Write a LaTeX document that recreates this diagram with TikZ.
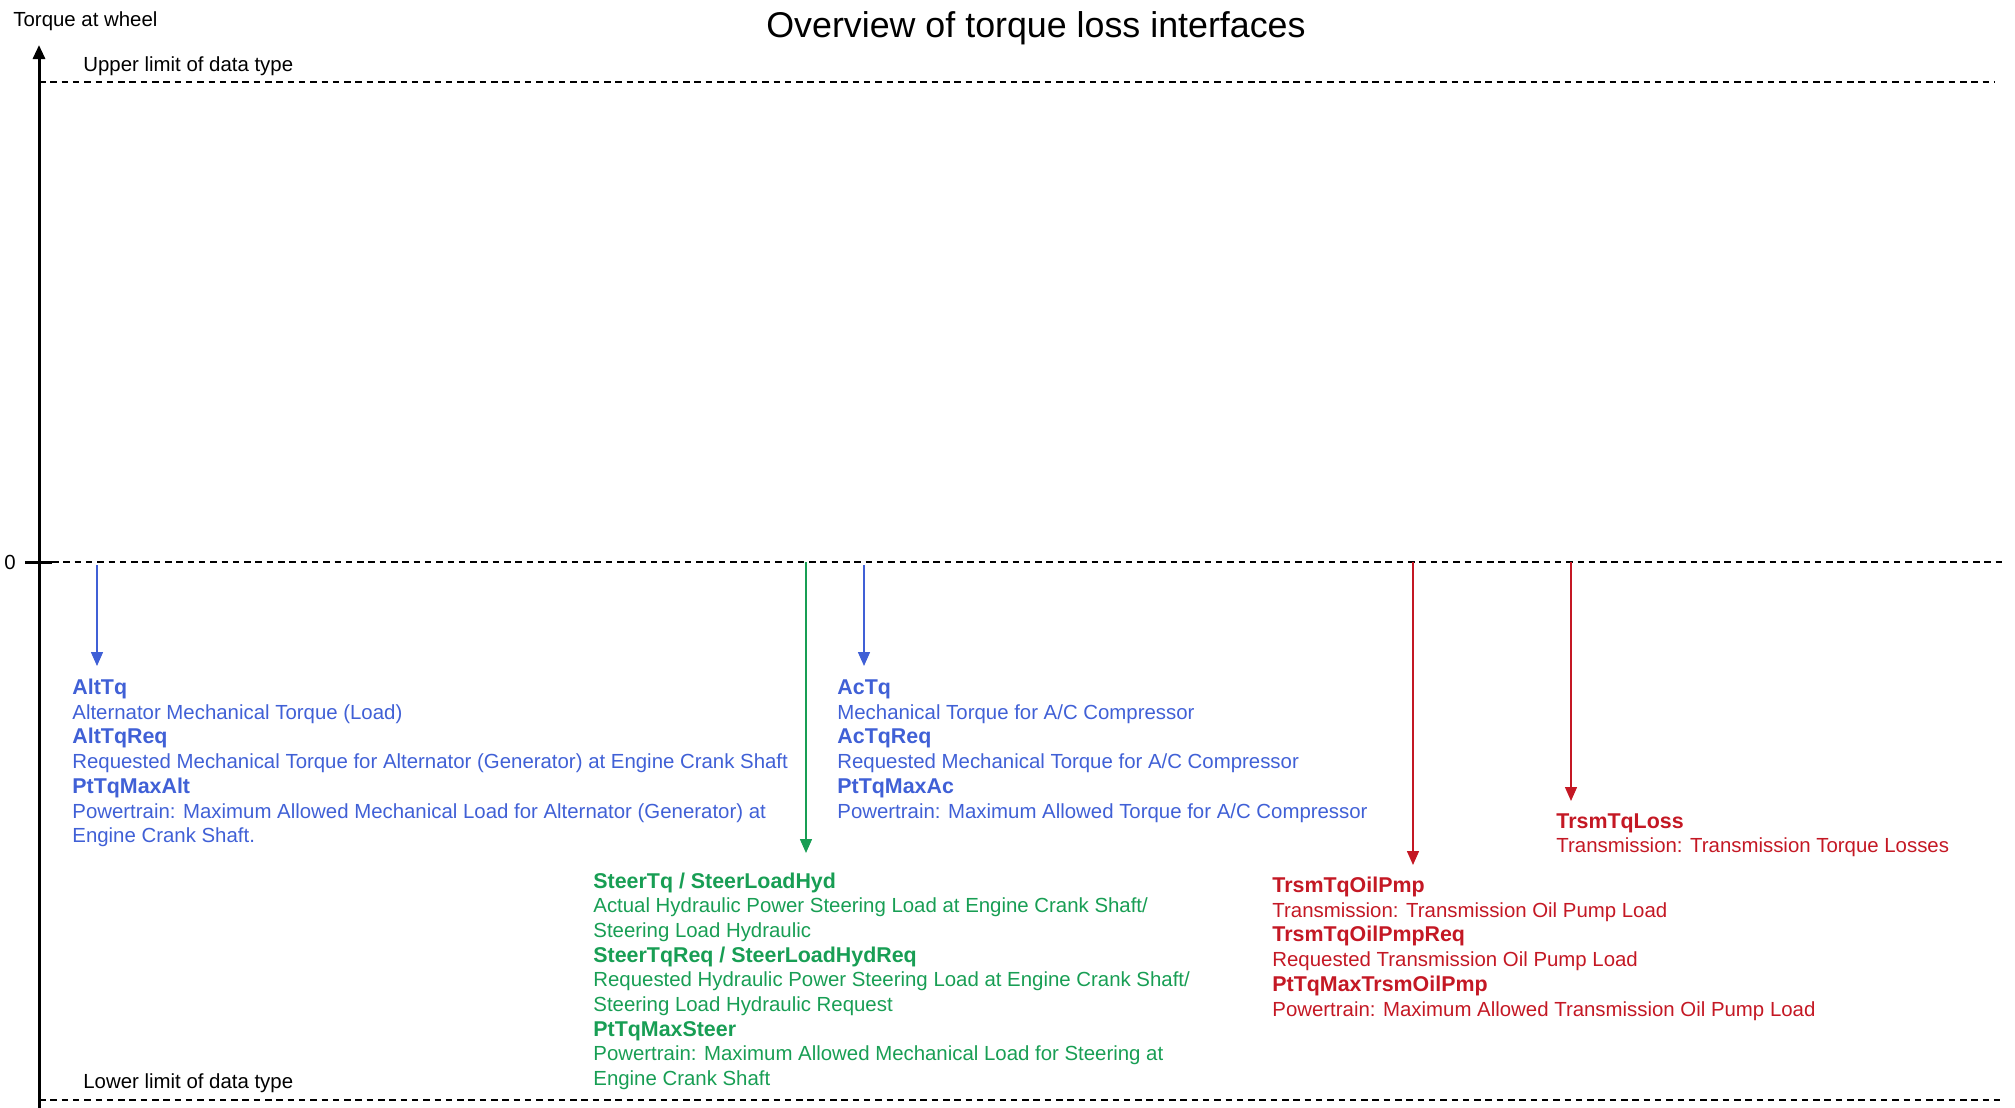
\documentclass[tikz,border=0pt]{standalone}
\usepackage{fontspec}
\setmainfont{Liberation Sans}
\usetikzlibrary{arrows.meta}
\definecolor{blu}{RGB}{64,96,214}
\definecolor{grn}{RGB}{24,158,84}
\definecolor{rd}{RGB}{196,24,36}
\begin{document}
\begin{tikzpicture}[x=0.5pt,y=-0.5pt,
  txt/.style={inner sep=0pt,anchor=base west,font=\fontsize{10.2}{12.35}\selectfont},
  nm/.style={inner sep=0pt,anchor=base west,font=\fontsize{10.7}{12.35}\selectfont\bfseries},
  dashln/.style={line width=0.6pt,dash pattern=on 3.25pt off 2.4pt},
  loadarrow/.style={line width=0.75pt,-{Triangle[length=7pt,width=6pt]}}]
\useasboundingbox (0,0) rectangle (2015,1108);

% axis
\coordinate (axB) at (39,1108);
\coordinate (axT) at (39,45);
\draw[line width=1.5pt,-{Triangle[length=7pt,width=6pt]}] (axB) -- (axT);
\coordinate (tkL) at (25,562);
\coordinate (tkR) at (52,562);
\draw[line width=1.5pt] (tkL) -- (tkR);

% reference lines
\coordinate (upL) at (39,82);   \coordinate (upR) at (1994,82);
\coordinate (zeL) at (52,562);  \coordinate (zeR) at (2005,562);
\coordinate (loL) at (39,1100); \coordinate (loR) at (2005,1100);
\draw[dashln] (upL) -- (upR);
\draw[dashln] (zeL) -- (zeR);
\draw[dashln] (loL) -- (loR);

% labels
\node[txt] (ylab) at (13,26) {Torque at wheel};
\node[inner sep=0pt,anchor=base,font=\fontsize{17.9}{20}\selectfont] (title) at (1036,38) {Overview of torque loss interfaces};
\node[txt] (upper) at (83,71) {Upper limit of data type};
\node[txt] (lower) at (83,1088) {Lower limit of data type};
\node[inner sep=0pt,font=\fontsize{10.2}{12.35}\selectfont] (zero) at (10,562) {0};

% Alternator
\coordinate (altS) at (97,565);
\coordinate (altE) at (97,666);
\draw[loadarrow,blu] (altS) -- (altE);
\begin{scope}[blu]
\node[nm]  (alt1) at (72,694.5) {AltTq};
\node[txt] (alt2) at (72,719.2) {Alternator Mechanical Torque (Load)};
\node[nm]  (alt3) at (72,743.9) {AltTqReq};
\node[txt] (alt4) at (72,768.6) {Requested Mechanical Torque for Alternator (Generator) at Engine Crank Shaft};
\node[nm]  (alt5) at (72,793.3) {PtTqMaxAlt};
\node[txt] (alt6) at (72,818.0) {Powertrain: Maximum Allowed Mechanical Load for Alternator (Generator) at};
\node[txt] (alt7) at (72,842.7) {Engine Crank Shaft.};
\end{scope}

% A/C compressor
\coordinate (acS) at (864,565);
\coordinate (acE) at (864,666);
\draw[loadarrow,blu] (acS) -- (acE);
\begin{scope}[blu]
\node[nm]  (ac1) at (837,694.5) {AcTq};
\node[txt] (ac2) at (837,719.2) {Mechanical Torque for A/C Compressor};
\node[nm]  (ac3) at (837,743.9) {AcTqReq};
\node[txt] (ac4) at (837,768.6) {Requested Mechanical Torque for A/C Compressor};
\node[nm]  (ac5) at (837,793.3) {PtTqMaxAc};
\node[txt] (ac6) at (837,818.0) {Powertrain: Maximum Allowed Torque for A/C Compressor};
\end{scope}

% Steering
\coordinate (stS) at (806,562);
\coordinate (stE) at (806,853);
\draw[loadarrow,grn] (stS) -- (stE);
\begin{scope}[grn]
\node[nm]  (st1) at (593,888.0) {SteerTq / SteerLoadHyd};
\node[txt] (st2) at (593,912.7) {Actual Hydraulic Power Steering Load at Engine Crank Shaft/};
\node[txt] (st3) at (593,937.4) {Steering Load Hydraulic};
\node[nm]  (st4) at (593,962.1) {SteerTqReq / SteerLoadHydReq};
\node[txt] (st5) at (593,986.8) {Requested Hydraulic Power Steering Load at Engine Crank Shaft/};
\node[txt] (st6) at (593,1011.5) {Steering Load Hydraulic Request};
\node[nm]  (st7) at (593,1036.2) {PtTqMaxSteer};
\node[txt] (st8) at (593,1060.9) {Powertrain: Maximum Allowed Mechanical Load for Steering at};
\node[txt] (st9) at (593,1085.6) {Engine Crank Shaft};
\end{scope}

% Transmission oil pump
\coordinate (opS) at (1413,562);
\coordinate (opE) at (1413,865);
\draw[loadarrow,rd] (opS) -- (opE);
\begin{scope}[rd]
\node[nm]  (op1) at (1272,892.5) {TrsmTqOilPmp};
\node[txt] (op2) at (1272,917.2) {Transmission: Transmission Oil Pump Load};
\node[nm]  (op3) at (1272,941.9) {TrsmTqOilPmpReq};
\node[txt] (op4) at (1272,966.6) {Requested Transmission Oil Pump Load};
\node[nm]  (op5) at (1272,991.3) {PtTqMaxTrsmOilPmp};
\node[txt] (op6) at (1272,1016.0) {Powertrain: Maximum Allowed Transmission Oil Pump Load};
\end{scope}

% Transmission torque loss
\coordinate (tlS) at (1571,562);
\coordinate (tlE) at (1571,801);
\draw[loadarrow,rd] (tlS) -- (tlE);
\begin{scope}[rd]
\node[nm]  (tl1) at (1556,828.0) {TrsmTqLoss};
\node[txt] (tl2) at (1556,852.5) {Transmission: Transmission Torque Losses};
\end{scope}
\end{tikzpicture}
\end{document}
